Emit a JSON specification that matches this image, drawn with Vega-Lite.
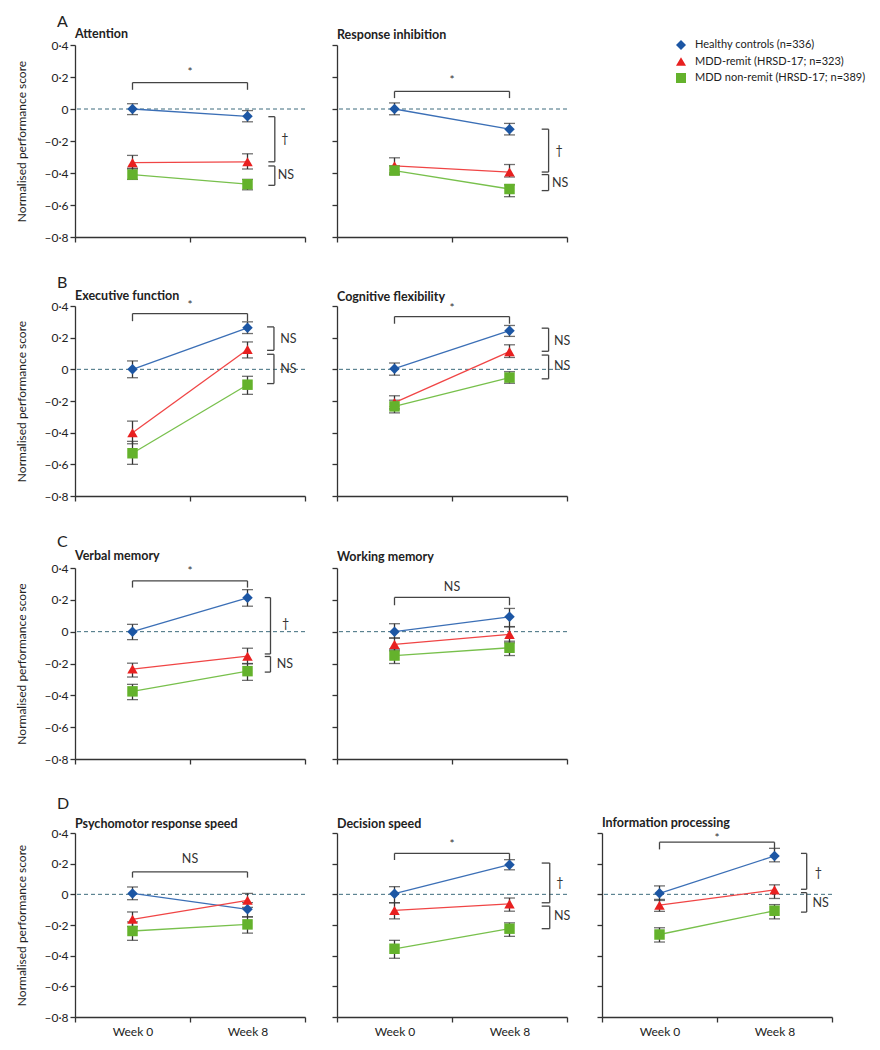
{
"$schema": "https://vega.github.io/schema/vega-lite/v6.json",
"padding": {"left": 15, "top": 13, "right": 5, "bottom": 5},
"spacing": 31,
"datasets": {
"d": [
{"panel":"Attention","t":"pt","group":"Healthy controls (n=336)","week":0,"mean":0.0,"lo":-0.035,"hi":0.033},
{"panel":"Attention","t":"pt","group":"Healthy controls (n=336)","week":8,"mean":-0.046,"lo":-0.08,"hi":-0.01},
{"panel":"Attention","t":"pt","group":"MDD-remit (HRSD-17; n=323)","week":0,"mean":-0.335,"lo":-0.375,"hi":-0.29},
{"panel":"Attention","t":"pt","group":"MDD-remit (HRSD-17; n=323)","week":8,"mean":-0.33,"lo":-0.375,"hi":-0.28},
{"panel":"Attention","t":"pt","group":"MDD non-remit (HRSD-17; n=389)","week":0,"mean":-0.41,"lo":-0.44,"hi":-0.37},
{"panel":"Attention","t":"pt","group":"MDD non-remit (HRSD-17; n=389)","week":8,"mean":-0.47,"lo":-0.505,"hi":-0.44},
{"panel":"Response inhibition","t":"pt","group":"Healthy controls (n=336)","week":0,"mean":0.0,"lo":-0.036,"hi":0.038},
{"panel":"Response inhibition","t":"pt","group":"Healthy controls (n=336)","week":8,"mean":-0.126,"lo":-0.162,"hi":-0.09},
{"panel":"Response inhibition","t":"pt","group":"MDD-remit (HRSD-17; n=323)","week":0,"mean":-0.355,"lo":-0.4,"hi":-0.305},
{"panel":"Response inhibition","t":"pt","group":"MDD-remit (HRSD-17; n=323)","week":8,"mean":-0.394,"lo":-0.425,"hi":-0.347},
{"panel":"Response inhibition","t":"pt","group":"MDD non-remit (HRSD-17; n=389)","week":0,"mean":-0.385,"lo":-0.41,"hi":-0.355},
{"panel":"Response inhibition","t":"pt","group":"MDD non-remit (HRSD-17; n=389)","week":8,"mean":-0.5,"lo":-0.548,"hi":-0.474},
{"panel":"Executive function","t":"pt","group":"Healthy controls (n=336)","week":0,"mean":0.0,"lo":-0.053,"hi":0.053},
{"panel":"Executive function","t":"pt","group":"Healthy controls (n=336)","week":8,"mean":0.262,"lo":0.226,"hi":0.3},
{"panel":"Executive function","t":"pt","group":"MDD-remit (HRSD-17; n=323)","week":0,"mean":-0.4,"lo":-0.47,"hi":-0.327},
{"panel":"Executive function","t":"pt","group":"MDD-remit (HRSD-17; n=323)","week":8,"mean":0.125,"lo":0.072,"hi":0.173},
{"panel":"Executive function","t":"pt","group":"MDD non-remit (HRSD-17; n=389)","week":0,"mean":-0.53,"lo":-0.6,"hi":-0.455},
{"panel":"Executive function","t":"pt","group":"MDD non-remit (HRSD-17; n=389)","week":8,"mean":-0.097,"lo":-0.158,"hi":-0.044},
{"panel":"Cognitive flexibility","t":"pt","group":"Healthy controls (n=336)","week":0,"mean":0.004,"lo":-0.037,"hi":0.04},
{"panel":"Cognitive flexibility","t":"pt","group":"Healthy controls (n=336)","week":8,"mean":0.244,"lo":0.208,"hi":0.277},
{"panel":"Cognitive flexibility","t":"pt","group":"MDD-remit (HRSD-17; n=323)","week":0,"mean":-0.21,"lo":-0.25,"hi":-0.167},
{"panel":"Cognitive flexibility","t":"pt","group":"MDD-remit (HRSD-17; n=323)","week":8,"mean":0.112,"lo":0.075,"hi":0.155},
{"panel":"Cognitive flexibility","t":"pt","group":"MDD non-remit (HRSD-17; n=389)","week":0,"mean":-0.234,"lo":-0.275,"hi":-0.195},
{"panel":"Cognitive flexibility","t":"pt","group":"MDD non-remit (HRSD-17; n=389)","week":8,"mean":-0.052,"lo":-0.088,"hi":-0.015},
{"panel":"Verbal memory","t":"pt","group":"Healthy controls (n=336)","week":0,"mean":0.0,"lo":-0.05,"hi":0.046},
{"panel":"Verbal memory","t":"pt","group":"Healthy controls (n=336)","week":8,"mean":0.213,"lo":0.16,"hi":0.264},
{"panel":"Verbal memory","t":"pt","group":"MDD-remit (HRSD-17; n=323)","week":0,"mean":-0.235,"lo":-0.285,"hi":-0.198},
{"panel":"Verbal memory","t":"pt","group":"MDD-remit (HRSD-17; n=323)","week":8,"mean":-0.154,"lo":-0.2,"hi":-0.104},
{"panel":"Verbal memory","t":"pt","group":"MDD non-remit (HRSD-17; n=389)","week":0,"mean":-0.375,"lo":-0.427,"hi":-0.331},
{"panel":"Verbal memory","t":"pt","group":"MDD non-remit (HRSD-17; n=389)","week":8,"mean":-0.248,"lo":-0.306,"hi":-0.202},
{"panel":"Working memory","t":"pt","group":"Healthy controls (n=336)","week":0,"mean":0.0,"lo":-0.04,"hi":0.05},
{"panel":"Working memory","t":"pt","group":"Healthy controls (n=336)","week":8,"mean":0.093,"lo":0.032,"hi":0.146},
{"panel":"Working memory","t":"pt","group":"MDD-remit (HRSD-17; n=323)","week":0,"mean":-0.08,"lo":-0.12,"hi":-0.04},
{"panel":"Working memory","t":"pt","group":"MDD-remit (HRSD-17; n=323)","week":8,"mean":-0.017,"lo":-0.07,"hi":0.03},
{"panel":"Working memory","t":"pt","group":"MDD non-remit (HRSD-17; n=389)","week":0,"mean":-0.15,"lo":-0.2,"hi":-0.11},
{"panel":"Working memory","t":"pt","group":"MDD non-remit (HRSD-17; n=389)","week":8,"mean":-0.101,"lo":-0.15,"hi":-0.06},
{"panel":"Psychomotor response speed","t":"pt","group":"Healthy controls (n=336)","week":0,"mean":0.006,"lo":-0.035,"hi":0.048},
{"panel":"Psychomotor response speed","t":"pt","group":"Healthy controls (n=336)","week":8,"mean":-0.098,"lo":-0.147,"hi":-0.054},
{"panel":"Psychomotor response speed","t":"pt","group":"MDD-remit (HRSD-17; n=323)","week":0,"mean":-0.163,"lo":-0.21,"hi":-0.115},
{"panel":"Psychomotor response speed","t":"pt","group":"MDD-remit (HRSD-17; n=323)","week":8,"mean":-0.039,"lo":-0.085,"hi":0.006},
{"panel":"Psychomotor response speed","t":"pt","group":"MDD non-remit (HRSD-17; n=389)","week":0,"mean":-0.239,"lo":-0.3,"hi":-0.18},
{"panel":"Psychomotor response speed","t":"pt","group":"MDD non-remit (HRSD-17; n=389)","week":8,"mean":-0.196,"lo":-0.253,"hi":-0.147},
{"panel":"Decision speed","t":"pt","group":"Healthy controls (n=336)","week":0,"mean":0.004,"lo":-0.055,"hi":0.05},
{"panel":"Decision speed","t":"pt","group":"Healthy controls (n=336)","week":8,"mean":0.193,"lo":0.16,"hi":0.226},
{"panel":"Decision speed","t":"pt","group":"MDD-remit (HRSD-17; n=323)","week":0,"mean":-0.105,"lo":-0.16,"hi":-0.055},
{"panel":"Decision speed","t":"pt","group":"MDD-remit (HRSD-17; n=323)","week":8,"mean":-0.062,"lo":-0.11,"hi":-0.024},
{"panel":"Decision speed","t":"pt","group":"MDD non-remit (HRSD-17; n=389)","week":0,"mean":-0.355,"lo":-0.417,"hi":-0.3},
{"panel":"Decision speed","t":"pt","group":"MDD non-remit (HRSD-17; n=389)","week":8,"mean":-0.224,"lo":-0.274,"hi":-0.186},
{"panel":"Information processing","t":"pt","group":"Healthy controls (n=336)","week":0,"mean":0.007,"lo":-0.04,"hi":0.055},
{"panel":"Information processing","t":"pt","group":"Healthy controls (n=336)","week":8,"mean":0.25,"lo":0.212,"hi":0.3},
{"panel":"Information processing","t":"pt","group":"MDD-remit (HRSD-17; n=323)","week":0,"mean":-0.071,"lo":-0.111,"hi":-0.033},
{"panel":"Information processing","t":"pt","group":"MDD-remit (HRSD-17; n=323)","week":8,"mean":0.029,"lo":-0.027,"hi":0.062},
{"panel":"Information processing","t":"pt","group":"MDD non-remit (HRSD-17; n=389)","week":0,"mean":-0.262,"lo":-0.311,"hi":-0.218},
{"panel":"Information processing","t":"pt","group":"MDD non-remit (HRSD-17; n=389)","week":8,"mean":-0.107,"lo":-0.16,"hi":-0.067},

{"panel":"Attention","t":"seg","x":0,"x2":8,"y":0.165,"y2":0.165},
{"panel":"Attention","t":"seg","x":0,"x2":0,"y":0.165,"y2":0.12},
{"panel":"Attention","t":"seg","x":8,"x2":8,"y":0.165,"y2":0.12},
{"panel":"Attention","t":"seg","x":9.9,"x2":9.9,"y":-0.048,"y2":-0.33},
{"panel":"Attention","t":"seg","x":9.45,"x2":9.9,"y":-0.048,"y2":-0.048},
{"panel":"Attention","t":"seg","x":9.45,"x2":9.9,"y":-0.33,"y2":-0.33},
{"panel":"Attention","t":"seg","x":9.9,"x2":9.9,"y":-0.356,"y2":-0.477},
{"panel":"Attention","t":"seg","x":9.45,"x2":9.9,"y":-0.356,"y2":-0.356},
{"panel":"Attention","t":"seg","x":9.45,"x2":9.9,"y":-0.477,"y2":-0.477},
{"panel":"Response inhibition","t":"seg","x":0,"x2":8,"y":0.11,"y2":0.11},
{"panel":"Response inhibition","t":"seg","x":0,"x2":0,"y":0.11,"y2":0.068},
{"panel":"Response inhibition","t":"seg","x":8,"x2":8,"y":0.11,"y2":0.068},
{"panel":"Response inhibition","t":"seg","x":10.72,"x2":10.72,"y":-0.126,"y2":-0.394},
{"panel":"Response inhibition","t":"seg","x":10.24,"x2":10.72,"y":-0.126,"y2":-0.126},
{"panel":"Response inhibition","t":"seg","x":10.24,"x2":10.72,"y":-0.394,"y2":-0.394},
{"panel":"Response inhibition","t":"seg","x":10.72,"x2":10.72,"y":-0.41,"y2":-0.51},
{"panel":"Response inhibition","t":"seg","x":10.24,"x2":10.72,"y":-0.41,"y2":-0.41},
{"panel":"Response inhibition","t":"seg","x":10.24,"x2":10.72,"y":-0.51,"y2":-0.51},
{"panel":"Executive function","t":"seg","x":0,"x2":8,"y":0.352,"y2":0.352},
{"panel":"Executive function","t":"seg","x":0,"x2":0,"y":0.352,"y2":0.304},
{"panel":"Executive function","t":"seg","x":8,"x2":8,"y":0.352,"y2":0.304},
{"panel":"Executive function","t":"seg","x":9.84,"x2":9.84,"y":0.268,"y2":0.12},
{"panel":"Executive function","t":"seg","x":9.36,"x2":9.84,"y":0.268,"y2":0.268},
{"panel":"Executive function","t":"seg","x":9.36,"x2":9.84,"y":0.12,"y2":0.12},
{"panel":"Executive function","t":"seg","x":9.84,"x2":9.84,"y":0.095,"y2":-0.09},
{"panel":"Executive function","t":"seg","x":9.36,"x2":9.84,"y":0.095,"y2":0.095},
{"panel":"Executive function","t":"seg","x":9.36,"x2":9.84,"y":-0.09,"y2":-0.09},
{"panel":"Cognitive flexibility","t":"seg","x":0,"x2":8,"y":0.333,"y2":0.333},
{"panel":"Cognitive flexibility","t":"seg","x":0,"x2":0,"y":0.333,"y2":0.288},
{"panel":"Cognitive flexibility","t":"seg","x":8,"x2":8,"y":0.333,"y2":0.288},
{"panel":"Cognitive flexibility","t":"seg","x":10.72,"x2":10.72,"y":0.26,"y2":0.114},
{"panel":"Cognitive flexibility","t":"seg","x":10.24,"x2":10.72,"y":0.26,"y2":0.26},
{"panel":"Cognitive flexibility","t":"seg","x":10.24,"x2":10.72,"y":0.114,"y2":0.114},
{"panel":"Cognitive flexibility","t":"seg","x":10.72,"x2":10.72,"y":0.09,"y2":-0.06},
{"panel":"Cognitive flexibility","t":"seg","x":10.24,"x2":10.72,"y":0.09,"y2":0.09},
{"panel":"Cognitive flexibility","t":"seg","x":10.24,"x2":10.72,"y":-0.06,"y2":-0.06},
{"panel":"Verbal memory","t":"seg","x":0,"x2":8,"y":0.319,"y2":0.319},
{"panel":"Verbal memory","t":"seg","x":0,"x2":0,"y":0.319,"y2":0.277},
{"panel":"Verbal memory","t":"seg","x":8,"x2":8,"y":0.319,"y2":0.277},
{"panel":"Verbal memory","t":"seg","x":9.6,"x2":9.6,"y":0.214,"y2":-0.14},
{"panel":"Verbal memory","t":"seg","x":9.2,"x2":9.6,"y":0.214,"y2":0.214},
{"panel":"Verbal memory","t":"seg","x":9.2,"x2":9.6,"y":-0.14,"y2":-0.14},
{"panel":"Verbal memory","t":"seg","x":9.6,"x2":9.6,"y":-0.156,"y2":-0.254},
{"panel":"Verbal memory","t":"seg","x":9.2,"x2":9.6,"y":-0.156,"y2":-0.156},
{"panel":"Verbal memory","t":"seg","x":9.2,"x2":9.6,"y":-0.254,"y2":-0.254},
{"panel":"Working memory","t":"seg","x":0,"x2":8,"y":0.215,"y2":0.215},
{"panel":"Working memory","t":"seg","x":0,"x2":0,"y":0.215,"y2":0.166},
{"panel":"Working memory","t":"seg","x":8,"x2":8,"y":0.215,"y2":0.166},
{"panel":"Psychomotor response speed","t":"seg","x":0,"x2":8,"y":0.146,"y2":0.146},
{"panel":"Psychomotor response speed","t":"seg","x":0,"x2":0,"y":0.146,"y2":0.109},
{"panel":"Psychomotor response speed","t":"seg","x":8,"x2":8,"y":0.146,"y2":0.109},
{"panel":"Decision speed","t":"seg","x":0,"x2":8,"y":0.267,"y2":0.267},
{"panel":"Decision speed","t":"seg","x":0,"x2":0,"y":0.267,"y2":0.224},
{"panel":"Decision speed","t":"seg","x":8,"x2":8,"y":0.267,"y2":0.224},
{"panel":"Decision speed","t":"seg","x":10.8,"x2":10.8,"y":0.204,"y2":-0.055},
{"panel":"Decision speed","t":"seg","x":10.24,"x2":10.8,"y":0.204,"y2":0.204},
{"panel":"Decision speed","t":"seg","x":10.24,"x2":10.8,"y":-0.055,"y2":-0.055},
{"panel":"Decision speed","t":"seg","x":10.8,"x2":10.8,"y":-0.077,"y2":-0.224},
{"panel":"Decision speed","t":"seg","x":10.24,"x2":10.8,"y":-0.077,"y2":-0.077},
{"panel":"Decision speed","t":"seg","x":10.24,"x2":10.8,"y":-0.224,"y2":-0.224},
{"panel":"Information processing","t":"seg","x":0,"x2":8,"y":0.34,"y2":0.34},
{"panel":"Information processing","t":"seg","x":0,"x2":0,"y":0.34,"y2":0.293},
{"panel":"Information processing","t":"seg","x":8,"x2":8,"y":0.34,"y2":0.293},
{"panel":"Information processing","t":"seg","x":10.24,"x2":10.24,"y":0.267,"y2":0.033},
{"panel":"Information processing","t":"seg","x":9.84,"x2":10.24,"y":0.267,"y2":0.267},
{"panel":"Information processing","t":"seg","x":9.84,"x2":10.24,"y":0.033,"y2":0.033},
{"panel":"Information processing","t":"seg","x":10.24,"x2":10.24,"y":0.011,"y2":-0.116},
{"panel":"Information processing","t":"seg","x":9.84,"x2":10.24,"y":0.011,"y2":0.011},
{"panel":"Information processing","t":"seg","x":9.84,"x2":10.24,"y":-0.116,"y2":-0.116},

{"panel":"Attention","t":"top","x":4,"y":0.23,"label":"*"},
{"panel":"Attention","t":"side","x":10.35,"y":-0.19,"label":"†"},
{"panel":"Attention","t":"side","x":10.1,"y":-0.415,"label":"NS"},
{"panel":"Response inhibition","t":"top","x":4,"y":0.18,"label":"*"},
{"panel":"Response inhibition","t":"side","x":11.2,"y":-0.26,"label":"†"},
{"panel":"Response inhibition","t":"side","x":10.96,"y":-0.46,"label":"NS"},
{"panel":"Executive function","t":"top","x":4,"y":0.405,"label":"*"},
{"panel":"Executive function","t":"side","x":10.27,"y":0.19,"label":"NS"},
{"panel":"Executive function","t":"side","x":10.27,"y":0.0,"label":"NS"},
{"panel":"Cognitive flexibility","t":"top","x":4,"y":0.39,"label":"*"},
{"panel":"Cognitive flexibility","t":"side","x":11.1,"y":0.18,"label":"NS"},
{"panel":"Cognitive flexibility","t":"side","x":11.1,"y":0.02,"label":"NS"},
{"panel":"Verbal memory","t":"top","x":4,"y":0.38,"label":"*"},
{"panel":"Verbal memory","t":"side","x":10.4,"y":0.048,"label":"†"},
{"panel":"Verbal memory","t":"side","x":10.03,"y":-0.2,"label":"NS"},
{"panel":"Working memory","t":"top","x":4,"y":0.278,"label":"NS"},
{"panel":"Psychomotor response speed","t":"top","x":4,"y":0.228,"label":"NS"},
{"panel":"Decision speed","t":"top","x":4,"y":0.329,"label":"*"},
{"panel":"Decision speed","t":"side","x":11.26,"y":0.076,"label":"†"},
{"panel":"Decision speed","t":"side","x":11.1,"y":-0.143,"label":"NS"},
{"panel":"Information processing","t":"top","x":4,"y":0.37,"label":"*"},
{"panel":"Information processing","t":"side","x":10.8,"y":0.138,"label":"†"},
{"panel":"Information processing","t":"side","x":10.64,"y":-0.056,"label":"NS"}
]
},
"vconcat": [
{
"title": {"text": "A", "fontSize": 16, "fontWeight": "normal", "dx": -18, "offset": -2},
"spacing": 25,
"hconcat": [
{"width": 230, "height": 192, "title": {"text": "Attention", "offset": -1}, "data": {"name": "d"}, "transform": [{"filter": "datum.panel == 'Attention'"}],
"layer": [
{"data": {"values": [{}]}, "mark": {"type": "rule", "color": "#3d6b7c", "strokeDash": [4, 3], "strokeWidth": 1}, "encoding": {"y": {"datum": 0, "type": "quantitative", "scale": {"domain": [-0.8, 0.4]}, "axis": {"values": [-0.8, -0.6, -0.4, -0.2, 0, 0.2, 0.4], "tickCount": 10, "labelExpr": "datum.value == 0 ? '0' : replace(replace(replace(format(datum.value, '.1f'), '.', '·'), '-', '–'), '−', '–')", "title": "Normalised performance score", "titlePadding": 15}}}},
{"transform": [{"filter": "datum.t == 'pt'"}], "mark": {"type": "errorbar", "ticks": {"size": 11, "thickness": 1.3}, "thickness": 1.3, "color": "#333"},
 "encoding": {"x": {"field": "week", "type": "quantitative", "scale": {"domain": [-4, 12]}, "axis": {"values": [-4, 0, 4, 8, 12], "tickCount": 10, "labels": false, "title": null, "tickOpacity": {"condition": {"test": "datum.value == 0 || datum.value == 8", "value": 0}, "value": 1}}},
 "y": {"field": "lo", "type": "quantitative", "scale": {"domain": [-0.8, 0.4]}, "axis": {"values": [-0.8, -0.6, -0.4, -0.2, 0, 0.2, 0.4], "tickCount": 10, "labelExpr": "datum.value == 0 ? '0' : replace(replace(replace(format(datum.value, '.1f'), '.', '·'), '-', '–'), '−', '–')", "title": "Normalised performance score", "titlePadding": 15}}, "y2": {"field": "hi"}}},
{"transform": [{"filter": "datum.t == 'pt'"}], "mark": {"type": "line", "strokeWidth": 1.3}, "encoding": {"x": {"field": "week", "type": "quantitative"}, "y": {"field": "mean", "type": "quantitative"}, "detail": {"field": "group"}, "stroke": {"condition": [{"test": "datum.group == 'Healthy controls (n=336)'", "value": "#3b6fb6"}, {"test": "datum.group == 'MDD-remit (HRSD-17; n=323)'", "value": "#f04545"}], "value": "#78c04c"}}},
{"transform": [{"filter": "datum.t == 'pt'"}], "mark": {"type": "point", "filled": true, "opacity": 1, "size": 110}, "encoding": {"x": {"field": "week", "type": "quantitative"}, "y": {"field": "mean", "type": "quantitative"}, "fill": {"field": "group", "type": "nominal", "scale": {"domain": ["Healthy controls (n=336)", "MDD-remit (HRSD-17; n=323)", "MDD non-remit (HRSD-17; n=389)"], "range": ["#1c56a4", "#e82020", "#64b22c"]}, "legend": {"title": null, "orient": "none", "legendX": 600, "legendY": -6}}, "shape": {"field": "group", "type": "nominal", "scale": {"domain": ["Healthy controls (n=336)", "MDD-remit (HRSD-17; n=323)", "MDD non-remit (HRSD-17; n=389)"], "range": ["diamond", "triangle-up", "square"]}, "legend": {"title": null, "orient": "none", "legendX": 600, "legendY": -6}}}},
{"transform": [{"filter": "datum.t == 'seg'"}], "mark": {"type": "rule", "color": "#444", "strokeWidth": 1.3}, "encoding": {"x": {"field": "x", "type": "quantitative"}, "x2": {"field": "x2"}, "y": {"field": "y", "type": "quantitative"}, "y2": {"field": "y2"}}},
{"transform": [{"filter": "datum.t == 'top'"}], "mark": {"type": "text", "align": "center", "baseline": "middle", "fontSize": 12, "color": "#333"}, "encoding": {"x": {"field": "x", "type": "quantitative"}, "y": {"field": "y", "type": "quantitative"}, "text": {"field": "label"}}},
{"transform": [{"filter": "datum.t == 'side'"}], "mark": {"type": "text", "align": "left", "baseline": "middle", "fontSize": 12.5, "color": "#333"}, "encoding": {"x": {"field": "x", "type": "quantitative"}, "y": {"field": "y", "type": "quantitative"}, "text": {"field": "label"}}}
]},
{"width": 230, "height": 192, "title": {"text": "Response inhibition", "offset": 3}, "data": {"name": "d"}, "transform": [{"filter": "datum.panel == 'Response inhibition'"}],
"layer": [
{"data": {"values": [{}]}, "mark": {"type": "rule", "color": "#3d6b7c", "strokeDash": [4, 3], "strokeWidth": 1}, "encoding": {"y": {"datum": 0, "type": "quantitative", "scale": {"domain": [-0.8, 0.4]}, "axis": {"values": [-0.8, -0.6, -0.4, -0.2, 0, 0.2, 0.4], "tickCount": 10, "labels": false, "title": null}}}},
{"transform": [{"filter": "datum.t == 'pt'"}], "mark": {"type": "errorbar", "ticks": {"size": 11, "thickness": 1.3}, "thickness": 1.3, "color": "#333"},
 "encoding": {"x": {"field": "week", "type": "quantitative", "scale": {"domain": [-4, 12]}, "axis": {"values": [-4, 0, 4, 8, 12], "tickCount": 10, "labels": false, "title": null, "tickOpacity": {"condition": {"test": "datum.value == 0 || datum.value == 8", "value": 0}, "value": 1}}},
 "y": {"field": "lo", "type": "quantitative", "scale": {"domain": [-0.8, 0.4]}, "axis": {"values": [-0.8, -0.6, -0.4, -0.2, 0, 0.2, 0.4], "tickCount": 10, "labels": false, "title": null}}, "y2": {"field": "hi"}}},
{"transform": [{"filter": "datum.t == 'pt'"}], "mark": {"type": "line", "strokeWidth": 1.3}, "encoding": {"x": {"field": "week", "type": "quantitative"}, "y": {"field": "mean", "type": "quantitative"}, "detail": {"field": "group"}, "stroke": {"condition": [{"test": "datum.group == 'Healthy controls (n=336)'", "value": "#3b6fb6"}, {"test": "datum.group == 'MDD-remit (HRSD-17; n=323)'", "value": "#f04545"}], "value": "#78c04c"}}},
{"transform": [{"filter": "datum.t == 'pt'"}], "mark": {"type": "point", "filled": true, "opacity": 1, "size": 110}, "encoding": {"x": {"field": "week", "type": "quantitative"}, "y": {"field": "mean", "type": "quantitative"}, "fill": {"field": "group", "type": "nominal", "scale": {"domain": ["Healthy controls (n=336)", "MDD-remit (HRSD-17; n=323)", "MDD non-remit (HRSD-17; n=389)"], "range": ["#1c56a4", "#e82020", "#64b22c"]}, "legend": {"title": null, "orient": "none", "legendX": 600, "legendY": -6}}, "shape": {"field": "group", "type": "nominal", "scale": {"domain": ["Healthy controls (n=336)", "MDD-remit (HRSD-17; n=323)", "MDD non-remit (HRSD-17; n=389)"], "range": ["diamond", "triangle-up", "square"]}, "legend": {"title": null, "orient": "none", "legendX": 600, "legendY": -6}}}},
{"transform": [{"filter": "datum.t == 'seg'"}], "mark": {"type": "rule", "color": "#444", "strokeWidth": 1.3}, "encoding": {"x": {"field": "x", "type": "quantitative"}, "x2": {"field": "x2"}, "y": {"field": "y", "type": "quantitative"}, "y2": {"field": "y2"}}},
{"transform": [{"filter": "datum.t == 'top'"}], "mark": {"type": "text", "align": "center", "baseline": "middle", "fontSize": 12, "color": "#333"}, "encoding": {"x": {"field": "x", "type": "quantitative"}, "y": {"field": "y", "type": "quantitative"}, "text": {"field": "label"}}},
{"transform": [{"filter": "datum.t == 'side'"}], "mark": {"type": "text", "align": "left", "baseline": "middle", "fontSize": 12.5, "color": "#333"}, "encoding": {"x": {"field": "x", "type": "quantitative"}, "y": {"field": "y", "type": "quantitative"}, "text": {"field": "label"}}}
]}
]},
{
"title": {"text": "B", "fontSize": 16, "fontWeight": "normal", "dx": -18, "offset": -1},
"spacing": 25,
"hconcat": [
{"width": 230, "height": 190, "title": {"text": "Executive function", "offset": -3}, "data": {"name": "d"}, "transform": [{"filter": "datum.panel == 'Executive function'"}],
"layer": [
{"data": {"values": [{}]}, "mark": {"type": "rule", "color": "#3d6b7c", "strokeDash": [4, 3], "strokeWidth": 1}, "encoding": {"y": {"datum": 0, "type": "quantitative", "scale": {"domain": [-0.8, 0.4]}, "axis": {"values": [-0.8, -0.6, -0.4, -0.2, 0, 0.2, 0.4], "tickCount": 10, "labelExpr": "datum.value == 0 ? '0' : replace(replace(replace(format(datum.value, '.1f'), '.', '·'), '-', '–'), '−', '–')", "title": "Normalised performance score", "titlePadding": 15}}}},
{"transform": [{"filter": "datum.t == 'pt'"}], "mark": {"type": "errorbar", "ticks": {"size": 11, "thickness": 1.3}, "thickness": 1.3, "color": "#333"},
 "encoding": {"x": {"field": "week", "type": "quantitative", "scale": {"domain": [-4, 12]}, "axis": {"values": [-4, 0, 4, 8, 12], "tickCount": 10, "labels": false, "title": null, "tickOpacity": {"condition": {"test": "datum.value == 0 || datum.value == 8", "value": 0}, "value": 1}}},
 "y": {"field": "lo", "type": "quantitative", "scale": {"domain": [-0.8, 0.4]}, "axis": {"values": [-0.8, -0.6, -0.4, -0.2, 0, 0.2, 0.4], "tickCount": 10, "labelExpr": "datum.value == 0 ? '0' : replace(replace(replace(format(datum.value, '.1f'), '.', '·'), '-', '–'), '−', '–')", "title": "Normalised performance score", "titlePadding": 15}}, "y2": {"field": "hi"}}},
{"transform": [{"filter": "datum.t == 'pt'"}], "mark": {"type": "line", "strokeWidth": 1.3}, "encoding": {"x": {"field": "week", "type": "quantitative"}, "y": {"field": "mean", "type": "quantitative"}, "detail": {"field": "group"}, "stroke": {"condition": [{"test": "datum.group == 'Healthy controls (n=336)'", "value": "#3b6fb6"}, {"test": "datum.group == 'MDD-remit (HRSD-17; n=323)'", "value": "#f04545"}], "value": "#78c04c"}}},
{"transform": [{"filter": "datum.t == 'pt'"}], "mark": {"type": "point", "filled": true, "opacity": 1, "size": 110}, "encoding": {"x": {"field": "week", "type": "quantitative"}, "y": {"field": "mean", "type": "quantitative"}, "fill": {"field": "group", "type": "nominal", "scale": {"domain": ["Healthy controls (n=336)", "MDD-remit (HRSD-17; n=323)", "MDD non-remit (HRSD-17; n=389)"], "range": ["#1c56a4", "#e82020", "#64b22c"]}, "legend": {"title": null, "orient": "none", "legendX": 600, "legendY": -6}}, "shape": {"field": "group", "type": "nominal", "scale": {"domain": ["Healthy controls (n=336)", "MDD-remit (HRSD-17; n=323)", "MDD non-remit (HRSD-17; n=389)"], "range": ["diamond", "triangle-up", "square"]}, "legend": {"title": null, "orient": "none", "legendX": 600, "legendY": -6}}}},
{"transform": [{"filter": "datum.t == 'seg'"}], "mark": {"type": "rule", "color": "#444", "strokeWidth": 1.3}, "encoding": {"x": {"field": "x", "type": "quantitative"}, "x2": {"field": "x2"}, "y": {"field": "y", "type": "quantitative"}, "y2": {"field": "y2"}}},
{"transform": [{"filter": "datum.t == 'top'"}], "mark": {"type": "text", "align": "center", "baseline": "middle", "fontSize": 12, "color": "#333"}, "encoding": {"x": {"field": "x", "type": "quantitative"}, "y": {"field": "y", "type": "quantitative"}, "text": {"field": "label"}}},
{"transform": [{"filter": "datum.t == 'side'"}], "mark": {"type": "text", "align": "left", "baseline": "middle", "fontSize": 12.5, "color": "#333"}, "encoding": {"x": {"field": "x", "type": "quantitative"}, "y": {"field": "y", "type": "quantitative"}, "text": {"field": "label"}}}
]},
{"width": 230, "height": 190, "title": {"text": "Cognitive flexibility", "offset": -2}, "data": {"name": "d"}, "transform": [{"filter": "datum.panel == 'Cognitive flexibility'"}],
"layer": [
{"data": {"values": [{}]}, "mark": {"type": "rule", "color": "#3d6b7c", "strokeDash": [4, 3], "strokeWidth": 1}, "encoding": {"y": {"datum": 0, "type": "quantitative", "scale": {"domain": [-0.8, 0.4]}, "axis": {"values": [-0.8, -0.6, -0.4, -0.2, 0, 0.2, 0.4], "tickCount": 10, "labels": false, "title": null}}}},
{"transform": [{"filter": "datum.t == 'pt'"}], "mark": {"type": "errorbar", "ticks": {"size": 11, "thickness": 1.3}, "thickness": 1.3, "color": "#333"},
 "encoding": {"x": {"field": "week", "type": "quantitative", "scale": {"domain": [-4, 12]}, "axis": {"values": [-4, 0, 4, 8, 12], "tickCount": 10, "labels": false, "title": null, "tickOpacity": {"condition": {"test": "datum.value == 0 || datum.value == 8", "value": 0}, "value": 1}}},
 "y": {"field": "lo", "type": "quantitative", "scale": {"domain": [-0.8, 0.4]}, "axis": {"values": [-0.8, -0.6, -0.4, -0.2, 0, 0.2, 0.4], "tickCount": 10, "labels": false, "title": null}}, "y2": {"field": "hi"}}},
{"transform": [{"filter": "datum.t == 'pt'"}], "mark": {"type": "line", "strokeWidth": 1.3}, "encoding": {"x": {"field": "week", "type": "quantitative"}, "y": {"field": "mean", "type": "quantitative"}, "detail": {"field": "group"}, "stroke": {"condition": [{"test": "datum.group == 'Healthy controls (n=336)'", "value": "#3b6fb6"}, {"test": "datum.group == 'MDD-remit (HRSD-17; n=323)'", "value": "#f04545"}], "value": "#78c04c"}}},
{"transform": [{"filter": "datum.t == 'pt'"}], "mark": {"type": "point", "filled": true, "opacity": 1, "size": 110}, "encoding": {"x": {"field": "week", "type": "quantitative"}, "y": {"field": "mean", "type": "quantitative"}, "fill": {"field": "group", "type": "nominal", "scale": {"domain": ["Healthy controls (n=336)", "MDD-remit (HRSD-17; n=323)", "MDD non-remit (HRSD-17; n=389)"], "range": ["#1c56a4", "#e82020", "#64b22c"]}, "legend": {"title": null, "orient": "none", "legendX": 600, "legendY": -6}}, "shape": {"field": "group", "type": "nominal", "scale": {"domain": ["Healthy controls (n=336)", "MDD-remit (HRSD-17; n=323)", "MDD non-remit (HRSD-17; n=389)"], "range": ["diamond", "triangle-up", "square"]}, "legend": {"title": null, "orient": "none", "legendX": 600, "legendY": -6}}}},
{"transform": [{"filter": "datum.t == 'seg'"}], "mark": {"type": "rule", "color": "#444", "strokeWidth": 1.3}, "encoding": {"x": {"field": "x", "type": "quantitative"}, "x2": {"field": "x2"}, "y": {"field": "y", "type": "quantitative"}, "y2": {"field": "y2"}}},
{"transform": [{"filter": "datum.t == 'top'"}], "mark": {"type": "text", "align": "center", "baseline": "middle", "fontSize": 12, "color": "#333"}, "encoding": {"x": {"field": "x", "type": "quantitative"}, "y": {"field": "y", "type": "quantitative"}, "text": {"field": "label"}}},
{"transform": [{"filter": "datum.t == 'side'"}], "mark": {"type": "text", "align": "left", "baseline": "middle", "fontSize": 12.5, "color": "#333"}, "encoding": {"x": {"field": "x", "type": "quantitative"}, "y": {"field": "y", "type": "quantitative"}, "text": {"field": "label"}}}
]}
]},
{
"title": {"text": "C", "fontSize": 16, "fontWeight": "normal", "dx": -18, "offset": 0},
"spacing": 25,
"hconcat": [
{"width": 230, "height": 191, "title": {"text": "Verbal memory", "offset": 0}, "data": {"name": "d"}, "transform": [{"filter": "datum.panel == 'Verbal memory'"}],
"layer": [
{"data": {"values": [{}]}, "mark": {"type": "rule", "color": "#3d6b7c", "strokeDash": [4, 3], "strokeWidth": 1}, "encoding": {"y": {"datum": 0, "type": "quantitative", "scale": {"domain": [-0.8, 0.4]}, "axis": {"values": [-0.8, -0.6, -0.4, -0.2, 0, 0.2, 0.4], "tickCount": 10, "labelExpr": "datum.value == 0 ? '0' : replace(replace(replace(format(datum.value, '.1f'), '.', '·'), '-', '–'), '−', '–')", "title": "Normalised performance score", "titlePadding": 15}}}},
{"transform": [{"filter": "datum.t == 'pt'"}], "mark": {"type": "errorbar", "ticks": {"size": 11, "thickness": 1.3}, "thickness": 1.3, "color": "#333"},
 "encoding": {"x": {"field": "week", "type": "quantitative", "scale": {"domain": [-4, 12]}, "axis": {"values": [-4, 0, 4, 8, 12], "tickCount": 10, "labels": false, "title": null, "tickOpacity": {"condition": {"test": "datum.value == 0 || datum.value == 8", "value": 0}, "value": 1}}},
 "y": {"field": "lo", "type": "quantitative", "scale": {"domain": [-0.8, 0.4]}, "axis": {"values": [-0.8, -0.6, -0.4, -0.2, 0, 0.2, 0.4], "tickCount": 10, "labelExpr": "datum.value == 0 ? '0' : replace(replace(replace(format(datum.value, '.1f'), '.', '·'), '-', '–'), '−', '–')", "title": "Normalised performance score", "titlePadding": 15}}, "y2": {"field": "hi"}}},
{"transform": [{"filter": "datum.t == 'pt'"}], "mark": {"type": "line", "strokeWidth": 1.3}, "encoding": {"x": {"field": "week", "type": "quantitative"}, "y": {"field": "mean", "type": "quantitative"}, "detail": {"field": "group"}, "stroke": {"condition": [{"test": "datum.group == 'Healthy controls (n=336)'", "value": "#3b6fb6"}, {"test": "datum.group == 'MDD-remit (HRSD-17; n=323)'", "value": "#f04545"}], "value": "#78c04c"}}},
{"transform": [{"filter": "datum.t == 'pt'"}], "mark": {"type": "point", "filled": true, "opacity": 1, "size": 110}, "encoding": {"x": {"field": "week", "type": "quantitative"}, "y": {"field": "mean", "type": "quantitative"}, "fill": {"field": "group", "type": "nominal", "scale": {"domain": ["Healthy controls (n=336)", "MDD-remit (HRSD-17; n=323)", "MDD non-remit (HRSD-17; n=389)"], "range": ["#1c56a4", "#e82020", "#64b22c"]}, "legend": {"title": null, "orient": "none", "legendX": 600, "legendY": -6}}, "shape": {"field": "group", "type": "nominal", "scale": {"domain": ["Healthy controls (n=336)", "MDD-remit (HRSD-17; n=323)", "MDD non-remit (HRSD-17; n=389)"], "range": ["diamond", "triangle-up", "square"]}, "legend": {"title": null, "orient": "none", "legendX": 600, "legendY": -6}}}},
{"transform": [{"filter": "datum.t == 'seg'"}], "mark": {"type": "rule", "color": "#444", "strokeWidth": 1.3}, "encoding": {"x": {"field": "x", "type": "quantitative"}, "x2": {"field": "x2"}, "y": {"field": "y", "type": "quantitative"}, "y2": {"field": "y2"}}},
{"transform": [{"filter": "datum.t == 'top'"}], "mark": {"type": "text", "align": "center", "baseline": "middle", "fontSize": 12, "color": "#333"}, "encoding": {"x": {"field": "x", "type": "quantitative"}, "y": {"field": "y", "type": "quantitative"}, "text": {"field": "label"}}},
{"transform": [{"filter": "datum.t == 'side'"}], "mark": {"type": "text", "align": "left", "baseline": "middle", "fontSize": 12.5, "color": "#333"}, "encoding": {"x": {"field": "x", "type": "quantitative"}, "y": {"field": "y", "type": "quantitative"}, "text": {"field": "label"}}}
]},
{"width": 230, "height": 191, "title": {"text": "Working memory", "offset": 4}, "data": {"name": "d"}, "transform": [{"filter": "datum.panel == 'Working memory'"}],
"layer": [
{"data": {"values": [{}]}, "mark": {"type": "rule", "color": "#3d6b7c", "strokeDash": [4, 3], "strokeWidth": 1}, "encoding": {"y": {"datum": 0, "type": "quantitative", "scale": {"domain": [-0.8, 0.4]}, "axis": {"values": [-0.8, -0.6, -0.4, -0.2, 0, 0.2, 0.4], "tickCount": 10, "labels": false, "title": null}}}},
{"transform": [{"filter": "datum.t == 'pt'"}], "mark": {"type": "errorbar", "ticks": {"size": 11, "thickness": 1.3}, "thickness": 1.3, "color": "#333"},
 "encoding": {"x": {"field": "week", "type": "quantitative", "scale": {"domain": [-4, 12]}, "axis": {"values": [-4, 0, 4, 8, 12], "tickCount": 10, "labels": false, "title": null, "tickOpacity": {"condition": {"test": "datum.value == 0 || datum.value == 8", "value": 0}, "value": 1}}},
 "y": {"field": "lo", "type": "quantitative", "scale": {"domain": [-0.8, 0.4]}, "axis": {"values": [-0.8, -0.6, -0.4, -0.2, 0, 0.2, 0.4], "tickCount": 10, "labels": false, "title": null}}, "y2": {"field": "hi"}}},
{"transform": [{"filter": "datum.t == 'pt'"}], "mark": {"type": "line", "strokeWidth": 1.3}, "encoding": {"x": {"field": "week", "type": "quantitative"}, "y": {"field": "mean", "type": "quantitative"}, "detail": {"field": "group"}, "stroke": {"condition": [{"test": "datum.group == 'Healthy controls (n=336)'", "value": "#3b6fb6"}, {"test": "datum.group == 'MDD-remit (HRSD-17; n=323)'", "value": "#f04545"}], "value": "#78c04c"}}},
{"transform": [{"filter": "datum.t == 'pt'"}], "mark": {"type": "point", "filled": true, "opacity": 1, "size": 110}, "encoding": {"x": {"field": "week", "type": "quantitative"}, "y": {"field": "mean", "type": "quantitative"}, "fill": {"field": "group", "type": "nominal", "scale": {"domain": ["Healthy controls (n=336)", "MDD-remit (HRSD-17; n=323)", "MDD non-remit (HRSD-17; n=389)"], "range": ["#1c56a4", "#e82020", "#64b22c"]}, "legend": {"title": null, "orient": "none", "legendX": 600, "legendY": -6}}, "shape": {"field": "group", "type": "nominal", "scale": {"domain": ["Healthy controls (n=336)", "MDD-remit (HRSD-17; n=323)", "MDD non-remit (HRSD-17; n=389)"], "range": ["diamond", "triangle-up", "square"]}, "legend": {"title": null, "orient": "none", "legendX": 600, "legendY": -6}}}},
{"transform": [{"filter": "datum.t == 'seg'"}], "mark": {"type": "rule", "color": "#444", "strokeWidth": 1.3}, "encoding": {"x": {"field": "x", "type": "quantitative"}, "x2": {"field": "x2"}, "y": {"field": "y", "type": "quantitative"}, "y2": {"field": "y2"}}},
{"transform": [{"filter": "datum.t == 'top'"}], "mark": {"type": "text", "align": "center", "baseline": "middle", "fontSize": 12.5, "color": "#333"}, "encoding": {"x": {"field": "x", "type": "quantitative"}, "y": {"field": "y", "type": "quantitative"}, "text": {"field": "label"}}}
]}
]},
{
"title": {"text": "D", "fontSize": 16, "fontWeight": "normal", "dx": -18, "offset": 5},
"spacing": 25,
"hconcat": [
{"width": 230, "height": 184, "title": {"text": "Psychomotor response speed", "offset": -3}, "data": {"name": "d"}, "transform": [{"filter": "datum.panel == 'Psychomotor response speed'"}],
"layer": [
{"data": {"values": [{}]}, "mark": {"type": "rule", "color": "#3d6b7c", "strokeDash": [4, 3], "strokeWidth": 1}, "encoding": {"y": {"datum": 0, "type": "quantitative", "scale": {"domain": [-0.8, 0.4]}, "axis": {"values": [-0.8, -0.6, -0.4, -0.2, 0, 0.2, 0.4], "tickCount": 10, "labelExpr": "datum.value == 0 ? '0' : replace(replace(replace(format(datum.value, '.1f'), '.', '·'), '-', '–'), '−', '–')", "title": "Normalised performance score", "titlePadding": 15}}}},
{"transform": [{"filter": "datum.t == 'pt'"}], "mark": {"type": "errorbar", "ticks": {"size": 11, "thickness": 1.3}, "thickness": 1.3, "color": "#333"},
 "encoding": {"x": {"field": "week", "type": "quantitative", "scale": {"domain": [-4, 12]}, "axis": {"values": [-4, 0, 4, 8, 12], "tickCount": 10, "labelExpr": "datum.value == 0 ? 'Week 0' : datum.value == 8 ? 'Week 8' : ''", "labelFlush": false, "labelOverlap": false, "labelPadding": 4, "title": null, "tickOpacity": {"condition": {"test": "datum.value == 0 || datum.value == 8", "value": 0}, "value": 1}}},
 "y": {"field": "lo", "type": "quantitative", "scale": {"domain": [-0.8, 0.4]}, "axis": {"values": [-0.8, -0.6, -0.4, -0.2, 0, 0.2, 0.4], "tickCount": 10, "labelExpr": "datum.value == 0 ? '0' : replace(replace(replace(format(datum.value, '.1f'), '.', '·'), '-', '–'), '−', '–')", "title": "Normalised performance score", "titlePadding": 15}}, "y2": {"field": "hi"}}},
{"transform": [{"filter": "datum.t == 'pt'"}], "mark": {"type": "line", "strokeWidth": 1.3}, "encoding": {"x": {"field": "week", "type": "quantitative"}, "y": {"field": "mean", "type": "quantitative"}, "detail": {"field": "group"}, "stroke": {"condition": [{"test": "datum.group == 'Healthy controls (n=336)'", "value": "#3b6fb6"}, {"test": "datum.group == 'MDD-remit (HRSD-17; n=323)'", "value": "#f04545"}], "value": "#78c04c"}}},
{"transform": [{"filter": "datum.t == 'pt'"}], "mark": {"type": "point", "filled": true, "opacity": 1, "size": 110}, "encoding": {"x": {"field": "week", "type": "quantitative"}, "y": {"field": "mean", "type": "quantitative"}, "fill": {"field": "group", "type": "nominal", "scale": {"domain": ["Healthy controls (n=336)", "MDD-remit (HRSD-17; n=323)", "MDD non-remit (HRSD-17; n=389)"], "range": ["#1c56a4", "#e82020", "#64b22c"]}, "legend": {"title": null, "orient": "none", "legendX": 600, "legendY": -6}}, "shape": {"field": "group", "type": "nominal", "scale": {"domain": ["Healthy controls (n=336)", "MDD-remit (HRSD-17; n=323)", "MDD non-remit (HRSD-17; n=389)"], "range": ["diamond", "triangle-up", "square"]}, "legend": {"title": null, "orient": "none", "legendX": 600, "legendY": -6}}}},
{"transform": [{"filter": "datum.t == 'seg'"}], "mark": {"type": "rule", "color": "#444", "strokeWidth": 1.3}, "encoding": {"x": {"field": "x", "type": "quantitative"}, "x2": {"field": "x2"}, "y": {"field": "y", "type": "quantitative"}, "y2": {"field": "y2"}}},
{"transform": [{"filter": "datum.t == 'top'"}], "mark": {"type": "text", "align": "center", "baseline": "middle", "fontSize": 12.5, "color": "#333"}, "encoding": {"x": {"field": "x", "type": "quantitative"}, "y": {"field": "y", "type": "quantitative"}, "text": {"field": "label"}}}
]},
{"width": 230, "height": 184, "title": {"text": "Decision speed", "offset": 2}, "data": {"name": "d"}, "transform": [{"filter": "datum.panel == 'Decision speed'"}],
"layer": [
{"data": {"values": [{}]}, "mark": {"type": "rule", "color": "#3d6b7c", "strokeDash": [4, 3], "strokeWidth": 1}, "encoding": {"y": {"datum": 0, "type": "quantitative", "scale": {"domain": [-0.8, 0.4]}, "axis": {"values": [-0.8, -0.6, -0.4, -0.2, 0, 0.2, 0.4], "tickCount": 10, "labels": false, "title": null}}}},
{"transform": [{"filter": "datum.t == 'pt'"}], "mark": {"type": "errorbar", "ticks": {"size": 11, "thickness": 1.3}, "thickness": 1.3, "color": "#333"},
 "encoding": {"x": {"field": "week", "type": "quantitative", "scale": {"domain": [-4, 12]}, "axis": {"values": [-4, 0, 4, 8, 12], "tickCount": 10, "labelExpr": "datum.value == 0 ? 'Week 0' : datum.value == 8 ? 'Week 8' : ''", "labelFlush": false, "labelOverlap": false, "labelPadding": 4, "title": null, "tickOpacity": {"condition": {"test": "datum.value == 0 || datum.value == 8", "value": 0}, "value": 1}}},
 "y": {"field": "lo", "type": "quantitative", "scale": {"domain": [-0.8, 0.4]}, "axis": {"values": [-0.8, -0.6, -0.4, -0.2, 0, 0.2, 0.4], "tickCount": 10, "labels": false, "title": null}}, "y2": {"field": "hi"}}},
{"transform": [{"filter": "datum.t == 'pt'"}], "mark": {"type": "line", "strokeWidth": 1.3}, "encoding": {"x": {"field": "week", "type": "quantitative"}, "y": {"field": "mean", "type": "quantitative"}, "detail": {"field": "group"}, "stroke": {"condition": [{"test": "datum.group == 'Healthy controls (n=336)'", "value": "#3b6fb6"}, {"test": "datum.group == 'MDD-remit (HRSD-17; n=323)'", "value": "#f04545"}], "value": "#78c04c"}}},
{"transform": [{"filter": "datum.t == 'pt'"}], "mark": {"type": "point", "filled": true, "opacity": 1, "size": 110}, "encoding": {"x": {"field": "week", "type": "quantitative"}, "y": {"field": "mean", "type": "quantitative"}, "fill": {"field": "group", "type": "nominal", "scale": {"domain": ["Healthy controls (n=336)", "MDD-remit (HRSD-17; n=323)", "MDD non-remit (HRSD-17; n=389)"], "range": ["#1c56a4", "#e82020", "#64b22c"]}, "legend": {"title": null, "orient": "none", "legendX": 600, "legendY": -6}}, "shape": {"field": "group", "type": "nominal", "scale": {"domain": ["Healthy controls (n=336)", "MDD-remit (HRSD-17; n=323)", "MDD non-remit (HRSD-17; n=389)"], "range": ["diamond", "triangle-up", "square"]}, "legend": {"title": null, "orient": "none", "legendX": 600, "legendY": -6}}}},
{"transform": [{"filter": "datum.t == 'seg'"}], "mark": {"type": "rule", "color": "#444", "strokeWidth": 1.3}, "encoding": {"x": {"field": "x", "type": "quantitative"}, "x2": {"field": "x2"}, "y": {"field": "y", "type": "quantitative"}, "y2": {"field": "y2"}}},
{"transform": [{"filter": "datum.t == 'top'"}], "mark": {"type": "text", "align": "center", "baseline": "middle", "fontSize": 12, "color": "#333"}, "encoding": {"x": {"field": "x", "type": "quantitative"}, "y": {"field": "y", "type": "quantitative"}, "text": {"field": "label"}}},
{"transform": [{"filter": "datum.t == 'side'"}], "mark": {"type": "text", "align": "left", "baseline": "middle", "fontSize": 12.5, "color": "#333"}, "encoding": {"x": {"field": "x", "type": "quantitative"}, "y": {"field": "y", "type": "quantitative"}, "text": {"field": "label"}}}
]},
{"width": 230, "height": 184, "title": {"text": "Information processing", "offset": 2}, "data": {"name": "d"}, "transform": [{"filter": "datum.panel == 'Information processing'"}],
"layer": [
{"data": {"values": [{}]}, "mark": {"type": "rule", "color": "#3d6b7c", "strokeDash": [4, 3], "strokeWidth": 1}, "encoding": {"y": {"datum": 0, "type": "quantitative", "scale": {"domain": [-0.8, 0.4]}, "axis": {"values": [-0.8, -0.6, -0.4, -0.2, 0, 0.2, 0.4], "tickCount": 10, "labels": false, "title": null}}}},
{"transform": [{"filter": "datum.t == 'pt'"}], "mark": {"type": "errorbar", "ticks": {"size": 11, "thickness": 1.3}, "thickness": 1.3, "color": "#333"},
 "encoding": {"x": {"field": "week", "type": "quantitative", "scale": {"domain": [-4, 12]}, "axis": {"values": [-4, 0, 4, 8, 12], "tickCount": 10, "labelExpr": "datum.value == 0 ? 'Week 0' : datum.value == 8 ? 'Week 8' : ''", "labelFlush": false, "labelOverlap": false, "labelPadding": 4, "title": null, "tickOpacity": {"condition": {"test": "datum.value == 0 || datum.value == 8", "value": 0}, "value": 1}}},
 "y": {"field": "lo", "type": "quantitative", "scale": {"domain": [-0.8, 0.4]}, "axis": {"values": [-0.8, -0.6, -0.4, -0.2, 0, 0.2, 0.4], "tickCount": 10, "labels": false, "title": null}}, "y2": {"field": "hi"}}},
{"transform": [{"filter": "datum.t == 'pt'"}], "mark": {"type": "line", "strokeWidth": 1.3}, "encoding": {"x": {"field": "week", "type": "quantitative"}, "y": {"field": "mean", "type": "quantitative"}, "detail": {"field": "group"}, "stroke": {"condition": [{"test": "datum.group == 'Healthy controls (n=336)'", "value": "#3b6fb6"}, {"test": "datum.group == 'MDD-remit (HRSD-17; n=323)'", "value": "#f04545"}], "value": "#78c04c"}}},
{"transform": [{"filter": "datum.t == 'pt'"}], "mark": {"type": "point", "filled": true, "opacity": 1, "size": 110}, "encoding": {"x": {"field": "week", "type": "quantitative"}, "y": {"field": "mean", "type": "quantitative"}, "fill": {"field": "group", "type": "nominal", "scale": {"domain": ["Healthy controls (n=336)", "MDD-remit (HRSD-17; n=323)", "MDD non-remit (HRSD-17; n=389)"], "range": ["#1c56a4", "#e82020", "#64b22c"]}, "legend": {"title": null, "orient": "none", "legendX": 600, "legendY": -6}}, "shape": {"field": "group", "type": "nominal", "scale": {"domain": ["Healthy controls (n=336)", "MDD-remit (HRSD-17; n=323)", "MDD non-remit (HRSD-17; n=389)"], "range": ["diamond", "triangle-up", "square"]}, "legend": {"title": null, "orient": "none", "legendX": 600, "legendY": -6}}}},
{"transform": [{"filter": "datum.t == 'seg'"}], "mark": {"type": "rule", "color": "#444", "strokeWidth": 1.3}, "encoding": {"x": {"field": "x", "type": "quantitative"}, "x2": {"field": "x2"}, "y": {"field": "y", "type": "quantitative"}, "y2": {"field": "y2"}}},
{"transform": [{"filter": "datum.t == 'top'"}], "mark": {"type": "text", "align": "center", "baseline": "middle", "fontSize": 12, "color": "#333"}, "encoding": {"x": {"field": "x", "type": "quantitative"}, "y": {"field": "y", "type": "quantitative"}, "text": {"field": "label"}}},
{"transform": [{"filter": "datum.t == 'side'"}], "mark": {"type": "text", "align": "left", "baseline": "middle", "fontSize": 12.5, "color": "#333"}, "encoding": {"x": {"field": "x", "type": "quantitative"}, "y": {"field": "y", "type": "quantitative"}, "text": {"field": "label"}}}
]}
]}
],
"config": {
"font": "Lato",
"view": {"stroke": null},
"concat": {"spacing": 25},
"axis": {"grid": false, "domainColor": "#333", "tickColor": "#333", "domainWidth": 1.3, "tickWidth": 1.3, "tickSize": 5, "labelFont": "Lato", "labelFontSize": 12, "labelColor": "#222", "titleFont": "Lato", "titleFontSize": 12, "titleFontWeight": "normal", "titleColor": "#222"},
"title": {"anchor": "start", "frame": "group", "fontSize": 12.5, "fontWeight": "bold", "color": "#222", "font": "Lato"},
"legend": {"labelFont": "Lato", "labelFontSize": 11, "labelColor": "#222", "symbolSize": 100, "rowPadding": 0.5, "labelOffset": 8, "labelLimit": 300}
}
}
